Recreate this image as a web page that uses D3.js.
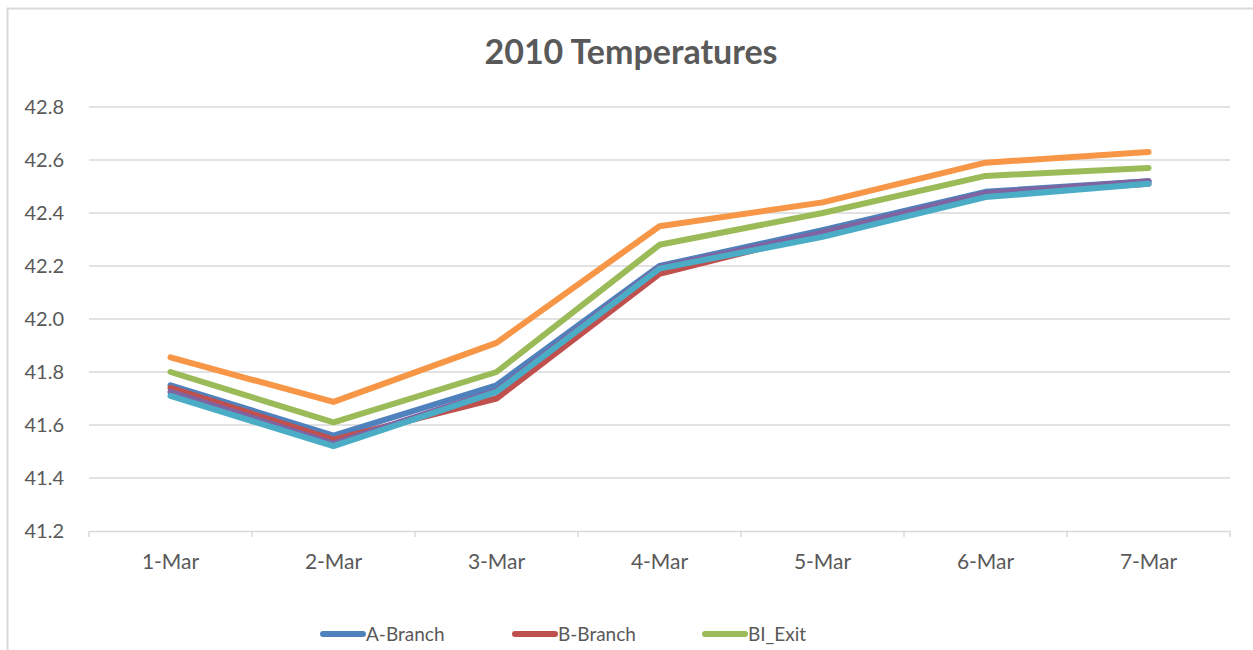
<!DOCTYPE html>
<html><head><meta charset="utf-8">
<script src="https://cdn.jsdelivr.net/npm/d3@7"></script>
<style>body{margin:0;background:#fff;} svg{display:block;font-family:Lato,"Open Sans",sans-serif;}</style>
</head><body>
<svg id="c" width="1253" height="650"></svg>
<script>
const categories = ["1-Mar","2-Mar","3-Mar","4-Mar","5-Mar","6-Mar","7-Mar"];
const yTicks = [41.2,41.4,41.6,41.8,42.0,42.2,42.4,42.6,42.8];
const seriesNames = ["A-Branch","B-Branch","BI_Exit","C-Branch","D-Branch","BO_Exit"];
const seriesColors = ["#4f81bd","#c0504d","#9bbb59","#8064a2","#4bacc6","#f79646"];
const aBranch = [41.75,41.56,41.75,42.20,42.335,42.48,42.52];
const bBranch = [41.74,41.545,41.70,42.17,42.325,42.47,42.51];
const biExit  = [41.80,41.61,41.80,42.28,42.40,42.54,42.57];
const cBranch = [41.725,41.53,41.73,42.195,42.325,42.475,42.52];
const dBranch = [41.71,41.52,41.725,42.19,42.31,42.46,42.51];
const boExit  = [41.855,41.687,41.91,42.35,42.44,42.59,42.63];
const seriesValues = [aBranch,bBranch,biExit,cBranch,dBranch,boExit];

(function(){
const svg = d3.select("#c");
svg.append("path").attr("d","M7.5,650 V8.5 H1253").attr("fill","none").attr("stroke","#d9d9d9").attr("stroke-width",2);

const pL = 89, pR = 1230, pT = 107, pB = 531;
const x = d3.scaleBand().domain(categories).range([pL, pR]);
const y = d3.scaleLinear().domain([41.2, 42.8]).range([pB, pT]);

svg.append("text").attr("x", 631).attr("y", 64).attr("text-anchor","middle")
  .attr("font-size", 34).attr("font-weight","bold").attr("fill","#595959").text("2010 Temperatures");

svg.append("g").selectAll("line").data(yTicks.slice(1)).join("line")
  .attr("x1", pL).attr("x2", pR).attr("y1", d=>y(d)).attr("y2", d=>y(d))
  .attr("stroke","#d9d9d9").attr("stroke-width",1.5);

const ya = svg.append("g").attr("transform",`translate(${pL-22},0)`)
  .call(d3.axisLeft(y).tickValues(yTicks).tickFormat(d3.format(".1f")).tickSize(0));
ya.select(".domain").remove();
ya.selectAll("text").attr("font-size",20).attr("fill","#595959").attr("font-family","Lato,'Open Sans',sans-serif");

const xa = svg.append("g").attr("transform",`translate(0,${pB})`)
  .call(d3.axisBottom(x).tickSize(0).tickPadding(23));
xa.select(".domain").attr("stroke","#d9d9d9").attr("stroke-width",1.5);
xa.selectAll("text").attr("font-size",21).attr("fill","#595959").attr("font-family","Lato,'Open Sans',sans-serif");
const bounds = categories.map(c=>x(c)).concat([pR]);
svg.append("g").selectAll("line").data(bounds).join("line")
  .attr("x1",d=>d).attr("x2",d=>d).attr("y1",pB).attr("y2",pB+6)
  .attr("stroke","#d9d9d9").attr("stroke-width",1.5);

const line = d3.line().x((d,i)=>x(categories[i])+x.bandwidth()/2).y(d=>y(d));
svg.append("g").selectAll("path").data(seriesValues).join("path")
  .attr("d", line).attr("fill","none")
  .attr("stroke",(d,i)=>seriesColors[i]).attr("stroke-width",6)
  .attr("stroke-linecap","round").attr("stroke-linejoin","round");

// only the first legend row is visible in the frame
const legX = [323, 515, 705];
const lg = svg.append("g").selectAll("g").data(seriesNames.slice(0,3)).join("g")
  .attr("transform",(d,i)=>`translate(${legX[i]},634)`);
lg.append("line").attr("x1",0).attr("x2",40).attr("y1",0).attr("y2",0)
  .attr("stroke",(d,i)=>seriesColors[i]).attr("stroke-width",6).attr("stroke-linecap","round");
lg.append("text").attr("x",43).attr("y",7).attr("font-size",19).attr("fill","#595959").text(d=>d);
})();
</script>
</body></html>
